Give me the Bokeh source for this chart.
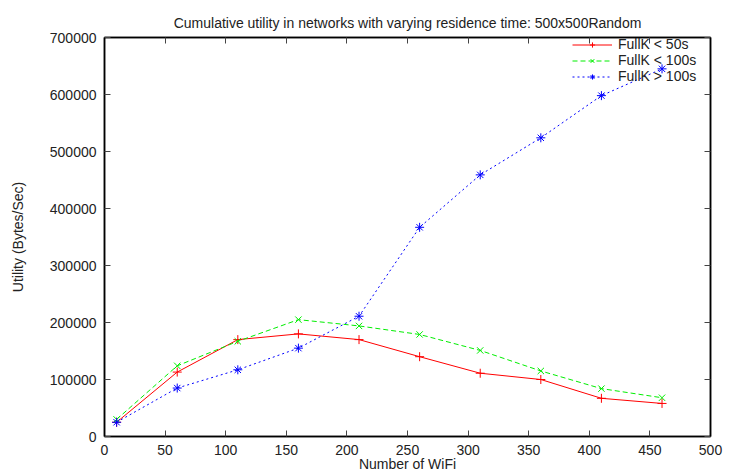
from bokeh.plotting import figure
from bokeh.models import Range1d, LinearAxis, FixedTicker, Legend, LegendItem, Title, NumeralTickFormatter
from bokeh.embed import file_html
from bokeh.resources import INLINE

wifi = [10, 60, 110, 160, 210, 260, 310, 360, 410, 460]
full_lt50 = [25000, 113000, 170000, 180000, 170000, 140000, 111000, 100000, 67000, 58000]
full_lt100 = [30000, 124000, 167000, 205000, 194000, 179000, 151000, 115000, 84000, 68000]
full_gt100 = [25000, 85000, 117000, 155000, 211000, 367000, 459000, 524000, 598000, 645000]
series_labels = ["FullK < 50s", "FullK < 100s", "FullK > 100s"]
x_ticks = list(range(0, 501, 50))
y_ticks = list(range(0, 700001, 100000))

FONT = "Liberation Sans"

p = figure(width=741, height=476, output_backend="svg", toolbar_location=None,
           x_range=Range1d(0, 500), y_range=Range1d(0, 700000),
           frame_width=606, frame_height=399,
           min_border_left=104, min_border_right=31, min_border_top=37, min_border_bottom=40)
p.xgrid.visible = False
p.ygrid.visible = False
p.outline_line_color = "black"
p.outline_line_width = 1.5

p.title = Title(text="Cumulative utility in networks with varying residence time: 500x500Random",
                align="center", text_font=FONT, text_font_size="14px", text_font_style="normal",
                text_color="#222222", offset=0, standoff=13)

def style_axis(ax, labels=True):
    ax.major_tick_in = 6
    ax.major_tick_out = 0
    ax.minor_tick_in = 0
    ax.minor_tick_out = 0
    ax.axis_line_color = "black"
    ax.axis_line_width = 1.5
    ax.major_tick_line_color = "#444444"
    ax.major_tick_line_width = 1
    ax.major_label_text_font = FONT
    ax.major_label_text_font_size = "14px"
    ax.major_label_text_color = "#222222"
    ax.axis_label_text_font = FONT
    ax.axis_label_text_font_size = "14px"
    ax.axis_label_text_font_style = "normal"
    ax.axis_label_text_color = "#222222"
    if not labels:
        ax.major_label_overrides = {t: "" for t in ax.ticker.ticks}
        ax.major_label_standoff = 0

xa = p.xaxis[0]
ya = p.yaxis[0]
xa.ticker = FixedTicker(ticks=x_ticks)
ya.ticker = FixedTicker(ticks=y_ticks)
ya.formatter = NumeralTickFormatter(format="0")
style_axis(xa)
style_axis(ya)
xa.axis_label = "Number of WiFi"
ya.axis_label = "Utility (Bytes/Sec)"
xa.major_label_standoff = 8
xa.axis_label_standoff = -2
ya.major_label_standoff = 8
ya.axis_label_standoff = 21

top = LinearAxis(ticker=FixedTicker(ticks=x_ticks))
style_axis(top, labels=False)
right = LinearAxis(ticker=FixedTicker(ticks=y_ticks))
style_axis(right, labels=False)
p.add_layout(top, "above")
p.add_layout(right, "right")

r1 = p.line(wifi, full_lt50, line_color="#ff0000", line_width=1)
m1 = p.scatter(wifi, full_lt50, marker="cross", size=9, line_color="#ff0000", line_width=1)
r2 = p.line(wifi, full_lt100, line_color="#00ee00", line_width=1, line_dash="5 3")
m2 = p.scatter(wifi, full_lt100, marker="x", size=9, line_color="#00ee00", line_width=1)
r3 = p.line(wifi, full_gt100, line_color="#0000ff", line_width=1, line_dash="2 3")
m3 = p.scatter(wifi, full_gt100, marker="asterisk", size=9, line_color="#0000ff", line_width=1)

legend = Legend(items=[LegendItem(label=series_labels[0], renderers=[r1, m1]),
                       LegendItem(label=series_labels[1], renderers=[r2, m2]),
                       LegendItem(label=series_labels[2], renderers=[r3, m3])],
                location=(468, 352), background_fill_alpha=0, border_line_color=None,
                label_text_font=FONT, label_text_font_size="14px", label_text_color="#222222",
                glyph_width=40, glyph_height=13, label_height=13, spacing=0,
                padding=2, margin=0, label_standoff=6)
p.add_layout(legend)

open("out.html", "w").write(file_html(p, INLINE))
